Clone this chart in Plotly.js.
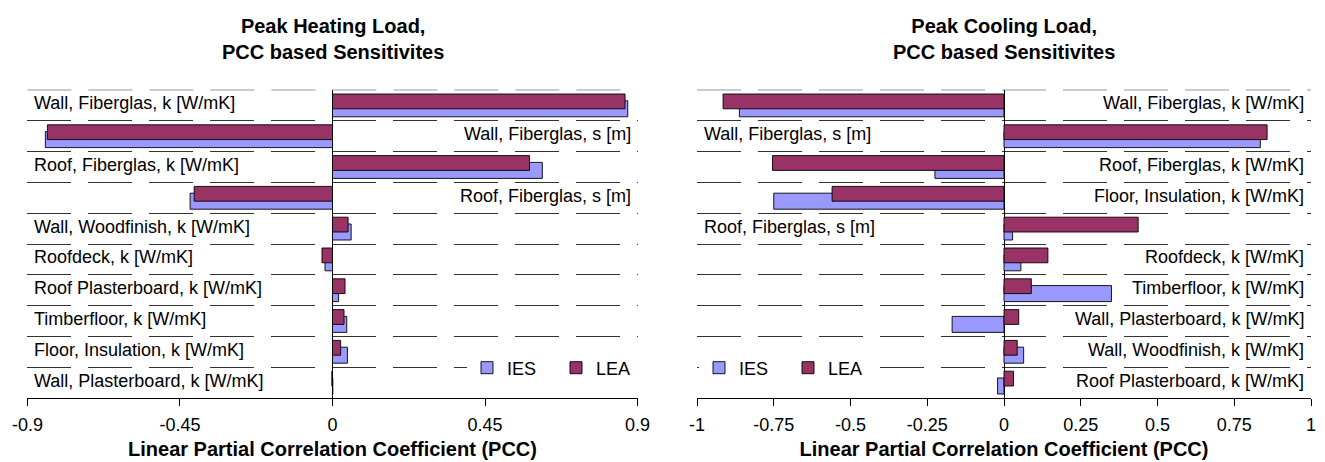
<!DOCTYPE html>
<html>
<head>
<meta charset="utf-8">
<script src="https://cdn.plot.ly/plotly-3.0.1.min.js"></script>
<style>
  html, body { margin: 0; padding: 0; background: #fff; }
  #chart { width: 1325px; height: 462px; }
</style>
</head>
<body>
<div id="chart"></div>
<script>
// ---------- data ----------
const seriesNames = ['IES', 'LEA'];

const heatCategories = [
  'Wall, Fiberglas, k [W/mK]',
  'Wall, Fiberglas, s [m]',
  'Roof, Fiberglas, k [W/mK]',
  'Roof, Fiberglas, s [m]',
  'Wall, Woodfinish, k [W/mK]',
  'Roofdeck, k [W/mK]',
  'Roof Plasterboard, k [W/mK]',
  'Timberfloor, k [W/mK]',
  'Floor, Insulation, k [W/mK]',
  'Wall, Plasterboard, k [W/mK]'
];
const heatIES = [0.871, -0.847, 0.619, -0.420, 0.055, -0.022, 0.018, 0.042, 0.044, 0.001];
const heatLEA = [0.863, -0.841, 0.581, -0.408, 0.046, -0.031, 0.037, 0.034, 0.024, -0.002];

const coolCategories = [
  'Wall, Fiberglas, k [W/mK]',
  'Wall, Fiberglas, s [m]',
  'Roof, Fiberglas, k [W/mK]',
  'Floor, Insulation, k [W/mK]',
  'Roof, Fiberglas, s [m]',
  'Roofdeck, k [W/mK]',
  'Timberfloor, k [W/mK]',
  'Wall, Plasterboard, k [W/mK]',
  'Wall, Woodfinish, k [W/mK]',
  'Roof Plasterboard, k [W/mK]'
];
const coolIES = [-0.862, 0.835, -0.225, -0.750, 0.028, 0.055, 0.350, -0.169, 0.064, -0.021];
const coolLEA = [-0.915, 0.857, -0.754, -0.560, 0.437, 0.143, 0.089, 0.048, 0.043, 0.031];

const heatTickVals = [-0.9, -0.45, 0, 0.45, 0.9];
const heatTickText = ['-0.9', '-0.45', '0', '0.45', '0.9'];
const coolTickVals = [-1, -0.75, -0.5, -0.25, 0, 0.25, 0.5, 0.75, 1];
const coolTickText = ['-1', '-0.75', '-0.5', '-0.25', '0', '0.25', '0.5', '0.75', '1'];

const heatTitle = 'Peak Heating Load,<br>PCC based Sensitivites';
const coolTitle = 'Peak Cooling Load,<br>PCC based Sensitivites';
const xTitle = 'Linear Partial Correlation Coefficient (PCC)';

// ---------- styles ----------
const FONT = 'Liberation Sans, Arial, sans-serif';
const colIES = '#9999FF';
const colLEA = '#993366';
const gridDash = '44px,17px';

function barTrace(name, x, y, color, xa, ya, legend, offset, width) {
  return {
    type: 'bar', orientation: 'h', name: name,
    x: x, y: y, xaxis: xa, yaxis: ya, legend: legend,
    offset: offset, width: width,
    marker: { color: color, line: { color: '#000', width: 0.9 } },
    hoverinfo: 'skip'
  };
}

const data = [
  barTrace(seriesNames[0], heatIES, heatCategories, colIES, 'x', 'y', 'legend', -0.15, 0.52),
  barTrace(seriesNames[1], heatLEA, heatCategories, colLEA, 'x', 'y', 'legend', -0.37, 0.48),
  barTrace(seriesNames[0], coolIES, coolCategories, colIES, 'x2', 'y2', 'legend2', -0.15, 0.52),
  barTrace(seriesNames[1], coolLEA, coolCategories, colLEA, 'x2', 'y2', 'legend2', -0.37, 0.48)
];

// category labels placed on the side away from the long bars
const annotations = [];
function addLabels(cats, a, b, xref, yref, defaultSide) {
  cats.forEach((c, i) => {
    const lo = Math.min(a[i], b[i]), hi = Math.max(a[i], b[i]);
    let side = defaultSide;
    if (defaultSide === 'left' && lo < -0.4) side = 'right';
    if (defaultSide === 'right' && hi > 0.4) side = 'left';
    annotations.push({
      text: c, xref: xref + ' domain', yref: yref,
      x: side === 'left' ? 0 : 1, y: c,
      xanchor: side, yanchor: 'middle',
      xshift: side === 'left' ? 5 : -5, yshift: 2,
      showarrow: false,
      font: { family: FONT, size: 18, color: '#000' }
    });
  });
}
addLabels(heatCategories, heatIES, heatLEA, 'x', 'y', 'left');
addLabels(coolCategories, coolIES, coolLEA, 'x2', 'y2', 'right');

[[heatTitle, 'x'], [coolTitle, 'x2']].forEach(([t, xr]) => {
  annotations.push({
    text: t, xref: xr + ' domain', yref: 'paper', x: 0.5, y: (462 - 39) / 462,
    xanchor: 'center', yanchor: 'middle', showarrow: false,
    font: { family: FONT, size: 20, color: '#000', weight: 'bold' }
  });
});

// dashed light boundary line along the top of each plot area (as in the reference)
const shapes = ['x', 'x2'].map((xr, i) => ({
  type: 'line', xref: xr + ' domain', yref: (i ? 'y2' : 'y') + ' domain',
  x0: 0, x1: 1, y0: 1, y1: 1, layer: 'below',
  line: { color: '#999', width: 1, dash: gridDash }
}));

function xAxis(domain, range, vals, text, anchor) {
  return {
    domain: domain, range: range, anchor: anchor,
    tickmode: 'array', tickvals: vals, ticktext: text,
    ticks: 'outside', ticklen: 7, tickcolor: '#000', tickwidth: 1,
    ticklabelstandoff: 3,
    showline: true, linecolor: '#000', linewidth: 1,
    showgrid: false,
    zeroline: true, zerolinecolor: '#000', zerolinewidth: 1,
    tickfont: { family: FONT, size: 18, color: '#000' },
    title: { text: xTitle, standoff: 8,
      font: { family: FONT, size: 20, color: '#000', weight: 'bold' } },
    fixedrange: true
  };
}
function yAxis(cats, anchor) {
  return {
    domain: [64 / 462, 372 / 462], anchor: anchor,
    type: 'category', categoryorder: 'array', categoryarray: cats,
    range: [cats.length - 0.5, -0.5],
    showticklabels: false, ticks: '',
    tickson: 'boundaries',
    showgrid: true, gridcolor: '#333', gridwidth: 1, griddash: gridDash,
    showline: false, zeroline: false, fixedrange: true
  };
}

const legendBase = {
  orientation: 'h', bgcolor: '#fff', borderwidth: 0,
  font: { family: FONT, size: 18, color: '#000' },
  entrywidth: 44, entrywidthmode: 'pixels',
  yanchor: 'middle', y: (462 - 368) / 462, xanchor: 'left',
  traceorder: 'normal'
};

const layout = {
  width: 1325, height: 462,
  margin: { l: 0, r: 0, t: 0, b: 0 },
  paper_bgcolor: '#fff', plot_bgcolor: '#fff',
  barmode: 'overlay',
  showlegend: true,
  xaxis: xAxis([27.4 / 1325, 637.6 / 1325], [-0.9, 0.9], heatTickVals, heatTickText, 'y'),
  yaxis: yAxis(heatCategories, 'x'),
  xaxis2: xAxis([697 / 1325, 1311 / 1325], [-1, 1], coolTickVals, coolTickText, 'y2'),
  yaxis2: yAxis(coolCategories, 'x2'),
  legend: Object.assign({}, legendBase, { x: 467 / 1325 }),
  legend2: Object.assign({}, legendBase, { x: 699 / 1325 }),
  shapes: shapes,
  annotations: annotations
};

Plotly.newPlot('chart', data, layout, { displayModeBar: false, staticPlot: true });
</script>
</body>
</html>
